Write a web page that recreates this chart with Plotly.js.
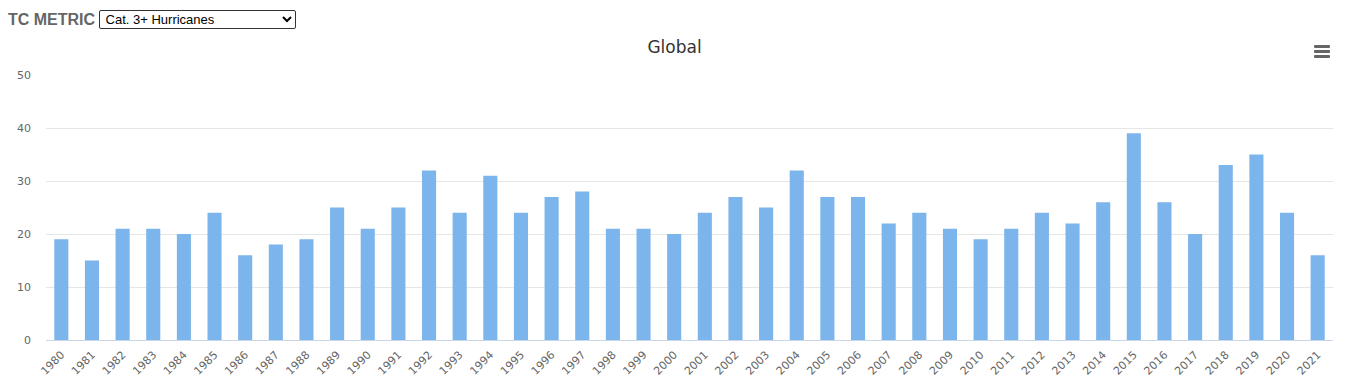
<!DOCTYPE html>
<html>
<head>
<meta charset="utf-8">
<script src="https://cdn.plot.ly/plotly-3.0.1.min.js"></script>
<style>
  html, body { margin: 0; padding: 0; background: #fff; width: 1349px; height: 383px; overflow: hidden; }
  #ctrl { position: absolute; left: 8px; top: 10px; font-family: "Liberation Sans", Arial, sans-serif; }
  #ctrl label { font-weight: bold; font-size: 16px; color: #666; vertical-align: middle; }
  #ctrl select { font-family: "Liberation Sans", Arial, sans-serif; font-size: 13px; width: 197px; height: 19px; margin-left: -1px; vertical-align: middle; border: 1px solid #333; border-radius: 2px; background: #fff; color: #000; padding: 0 2px; }
  #chart { position: absolute; left: 0; top: 30px; width: 1349px; height: 353px; }
  #menu { position: absolute; left: 1314px; top: 45px; width: 16px; }
  #menu div { height: 3px; background: #666; margin-bottom: 2px; border-radius: 1px; }
</style>
</head>
<body>
<div id="ctrl"><label>TC METRIC</label> <select><option>Cat. 3+ Hurricanes</option></select></div>
<div id="chart"></div>
<div id="menu"><div></div><div></div><div></div></div>
<script>
const years = ["1980","1981","1982","1983","1984","1985","1986","1987","1988","1989",
  "1990","1991","1992","1993","1994","1995","1996","1997","1998","1999",
  "2000","2001","2002","2003","2004","2005","2006","2007","2008","2009",
  "2010","2011","2012","2013","2014","2015","2016","2017","2018","2019",
  "2020","2021"];
const cat3Counts = [19,15,21,21,20,24,16,18,19,25,
  21,25,32,24,31,24,27,28,21,21,
  20,24,27,25,32,27,27,22,24,21,
  19,21,24,22,26,39,26,20,33,35,
  24,16];
const yTicks = [0,10,20,30,40,50];
const chartTitle = "Global";

const trace = {
  type: "bar",
  x: years,
  y: cat3Counts,
  marker: { color: "#7cb5ec" },
  hoverinfo: "x+y"
};

const layout = {
  width: 1349,
  height: 353,
  margin: { l: 46, r: 16, t: 45, b: 43 },
  paper_bgcolor: "#fff",
  plot_bgcolor: "#fff",
  bargap: 0.54,
  showlegend: false,
  title: {
    text: chartTitle,
    font: { family: "DejaVu Sans, sans-serif", size: 17, color: "#333" },
    x: 0.5, xanchor: "center",
    y: 1 - 17 / 353, yanchor: "middle"
  },
  xaxis: {
    type: "category",
    tickangle: -45,
    tickfont: { family: "DejaVu Sans, sans-serif", size: 11, color: "#666" },
    showgrid: false,
    showline: true,
    linecolor: "#ccd6eb",
    linewidth: 1,
    ticks: "",
    ticklabelstandoff: 3,
    fixedrange: true
  },
  yaxis: {
    range: [0, 50],
    tickvals: yTicks,
    ticktext: yTicks.map(String),
    tickfont: { family: "DejaVu Sans, sans-serif", size: 11, color: "#666" },
    gridcolor: "#e6e6e6",
    gridwidth: 1,
    zeroline: false,
    showline: false,
    ticks: "",
    ticklabelstandoff: 14,
    fixedrange: true
  }
};

Plotly.newPlot("chart", [trace], layout, { displayModeBar: false, staticPlot: false });
</script>
</body>
</html>
